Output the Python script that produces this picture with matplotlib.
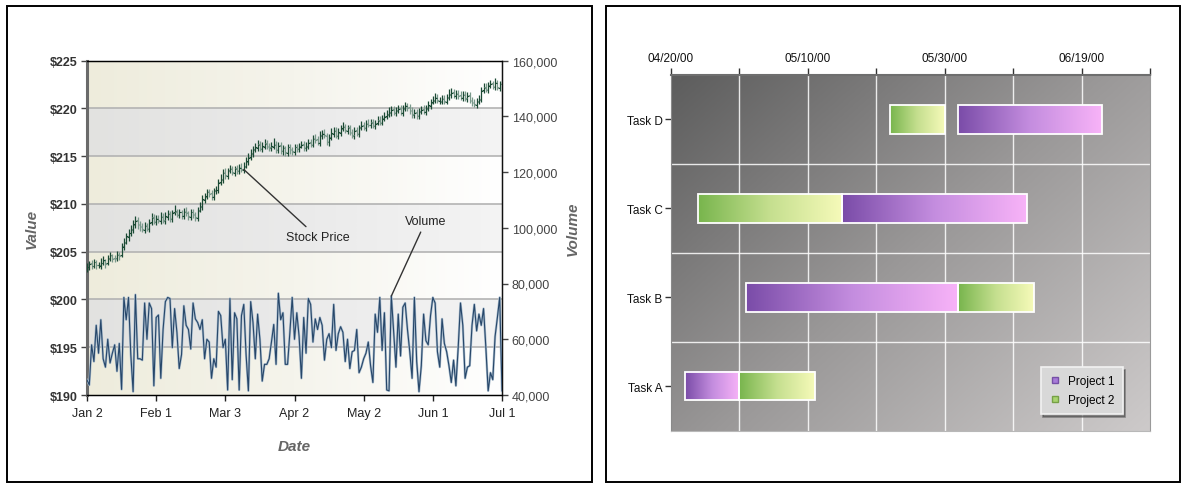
import numpy as np
import pandas as pd
import matplotlib
matplotlib.use("Agg")
import matplotlib.pyplot as plt
import matplotlib.dates as mdates
from matplotlib.colors import LinearSegmentedColormap
from matplotlib.patches import Rectangle
from matplotlib.lines import Line2D
from matplotlib.ticker import FuncFormatter

plt.rcParams["font.family"] = ["Liberation Sans", "DejaVu Sans"]

# ---------------- stock panel: one bar per calendar day from Jan 2 ----------------
START = "2001-01-02"

price_open = [
    203.2, 203.4, 203.8, 203.5, 203.9, 203.6, 203.5, 203.8, 204.0, 203.8,
    204.2, 204.5, 204.3, 204.3, 204.8, 204.6, 205.5, 206.0, 206.5, 207.0,
    207.3, 207.8, 208.3, 207.9, 207.7, 207.3, 207.8, 207.4, 208.1, 208.6,
    208.1, 208.5, 208.2, 208.7, 208.2, 208.6, 209.0, 208.4, 209.1, 209.2,
    208.8, 209.2, 208.7, 209.3, 209.1, 208.6, 209.2, 208.8, 208.5, 209.4,
    209.7, 210.4, 210.8, 211.3, 211.1, 210.7, 211.4, 211.4, 212.3, 212.5,
    213.3, 212.9, 213.5, 213.7, 213.2, 213.7, 213.4, 213.9, 213.5, 214.0,
    214.4, 214.9, 215.2, 215.7, 215.8, 216.3, 215.7, 216.0, 216.4, 216.1,
    215.8, 216.0, 216.3, 215.6, 216.2, 215.5, 215.9, 215.3, 216.0, 215.7,
    215.4, 216.0, 215.7, 216.1, 216.3, 215.8, 216.0, 216.5, 216.2, 216.9,
    216.8, 216.4, 217.1, 217.4, 217.1, 216.5, 217.0, 217.3, 217.7, 217.1,
    217.4, 217.9, 218.1, 217.6, 218.0, 217.4, 217.1, 217.7, 217.3, 218.0,
    218.2, 217.9, 218.5, 218.2, 218.6, 218.1, 218.5, 218.8, 218.5, 219.0,
    219.2, 219.4, 219.5, 219.9, 219.5, 219.8, 220.0, 219.5, 220.0, 220.3,
    220.1, 219.8, 219.3, 219.6, 219.2, 219.7, 219.9, 219.6, 220.0, 220.2,
    220.7, 220.9, 221.2, 220.8, 220.7, 221.1, 220.7, 221.2, 221.4, 221.7,
    221.3, 221.6, 221.4, 221.1, 221.5, 221.0, 221.4, 220.8, 220.7, 220.3,
    220.8, 221.0, 221.9, 222.2, 221.9, 222.4, 222.6, 222.2, 222.7, 222.1,
    222.6,
]
price_high = [
    203.8, 204.0, 204.1, 204.2, 204.1, 203.9, 204.3, 204.5, 204.2, 204.7,
    205.0, 204.8, 204.6, 205.1, 205.0, 205.9, 206.4, 207.0, 207.4, 207.8,
    208.3, 208.7, 208.6, 208.2, 208.0, 208.1, 208.0, 208.4, 209.0, 208.9,
    208.8, 208.8, 209.1, 209.0, 209.2, 209.4, 209.3, 209.4, 209.9, 209.5,
    209.5, 209.4, 209.6, 209.7, 209.3, 209.5, 209.5, 209.2, 209.7, 210.2,
    210.9, 211.1, 211.6, 211.6, 211.4, 211.7, 211.9, 212.6, 213.1, 213.6,
    213.7, 213.8, 214.1, 214.0, 214.0, 214.1, 214.2, 214.3, 214.4, 214.9,
    215.3, 215.7, 216.1, 216.4, 216.7, 216.6, 216.5, 216.8, 216.7, 216.4,
    216.5, 216.9, 216.6, 216.5, 216.5, 216.2, 216.1, 216.3, 216.3, 216.0,
    216.3, 216.3, 216.4, 216.6, 216.6, 216.5, 216.8, 216.8, 217.2, 217.3,
    217.1, 217.6, 217.7, 217.8, 217.4, 217.3, 217.9, 218.0, 218.0, 217.9,
    218.2, 218.6, 218.4, 218.3, 218.3, 217.8, 218.0, 218.0, 218.3, 218.7,
    218.6, 218.8, 218.9, 218.9, 218.9, 218.8, 219.2, 219.2, 219.3, 219.6,
    219.8, 220.1, 220.2, 220.2, 220.1, 220.3, 220.3, 220.3, 220.7, 220.6,
    220.4, 220.1, 219.9, 219.9, 220.0, 220.2, 220.3, 220.3, 220.8, 221.0,
    221.3, 221.6, 221.5, 221.2, 221.4, 221.4, 221.5, 222.0, 222.1, 222.0,
    221.9, 221.9, 221.8, 221.8, 221.8, 221.7, 221.7, 221.2, 221.0, 221.1,
    221.4, 222.2, 222.6, 222.6, 222.8, 223.0, 222.9, 223.2, 223.0, 222.9,
    222.9,
]
price_low = [
    202.9, 203.1, 203.2, 203.3, 203.2, 203.3, 203.2, 203.6, 203.3, 203.6,
    204.0, 203.9, 203.9, 204.0, 204.1, 204.4, 205.2, 205.8, 206.1, 206.6,
    207.0, 207.5, 207.4, 207.2, 207.1, 207.0, 207.2, 207.1, 207.8, 207.9,
    207.8, 208.0, 207.9, 208.0, 207.9, 208.3, 208.1, 208.1, 208.8, 208.6,
    208.5, 208.4, 208.4, 208.7, 208.3, 208.3, 208.5, 208.2, 208.2, 209.1,
    209.4, 210.1, 210.5, 210.7, 210.4, 210.4, 211.0, 211.1, 212.0, 212.2,
    212.6, 212.6, 213.2, 213.0, 212.9, 213.1, 213.1, 213.3, 213.2, 213.7,
    214.1, 214.6, 214.9, 215.4, 215.5, 215.5, 215.4, 215.7, 215.7, 215.5,
    215.5, 215.7, 215.3, 215.3, 215.2, 215.1, 215.0, 215.0, 215.2, 215.1,
    215.1, 215.4, 215.4, 215.8, 215.5, 215.5, 215.7, 216.0, 215.9, 216.4,
    216.2, 216.1, 216.8, 216.9, 216.2, 216.1, 216.7, 217.0, 216.9, 216.8,
    217.1, 217.6, 217.4, 217.3, 217.2, 216.9, 216.8, 217.1, 217.0, 217.7,
    217.7, 217.6, 218.0, 217.9, 217.9, 217.8, 218.2, 218.3, 218.2, 218.7,
    218.9, 219.1, 219.2, 219.3, 219.2, 219.5, 219.3, 219.2, 219.7, 219.7,
    219.4, 219.0, 219.0, 218.9, 218.9, 219.4, 219.4, 219.3, 219.7, 219.9,
    220.4, 220.6, 220.6, 220.5, 220.4, 220.5, 220.4, 220.9, 221.1, 221.1,
    221.0, 221.0, 220.9, 220.8, 220.8, 220.7, 220.6, 220.2, 220.1, 220.0,
    220.5, 220.7, 221.6, 221.7, 221.6, 222.1, 222.0, 221.9, 221.9, 221.8,
    221.7,
]
price_close = [
    203.4, 203.7, 203.5, 203.9, 203.6, 203.6, 203.8, 204.1, 203.7, 204.3,
    204.6, 204.2, 204.2, 204.7, 204.5, 205.6, 205.9, 206.6, 206.9, 207.4,
    207.9, 208.2, 207.8, 207.6, 207.4, 207.7, 207.5, 208.0, 208.5, 208.2,
    208.4, 208.3, 208.6, 208.3, 208.7, 208.9, 208.5, 209.0, 209.3, 208.9,
    209.1, 208.8, 209.2, 209.0, 208.7, 209.1, 208.9, 208.6, 209.3, 209.8,
    210.5, 210.7, 211.2, 211.0, 210.8, 211.3, 211.5, 212.2, 212.6, 213.2,
    213.0, 213.4, 213.6, 213.3, 213.6, 213.5, 213.8, 213.6, 213.9, 214.5,
    214.8, 215.3, 215.6, 215.9, 216.2, 215.8, 216.1, 216.3, 216.0, 215.9,
    216.1, 216.2, 215.7, 216.1, 215.6, 215.8, 215.4, 215.9, 215.6, 215.5,
    215.9, 215.8, 216.0, 216.2, 215.9, 216.1, 216.4, 216.3, 216.8, 216.7,
    216.5, 217.2, 217.3, 217.2, 216.6, 216.9, 217.4, 217.6, 217.2, 217.5,
    217.8, 218.0, 217.7, 217.9, 217.5, 217.2, 217.6, 217.4, 217.9, 218.1,
    218.0, 218.4, 218.3, 218.5, 218.2, 218.4, 218.7, 218.6, 218.9, 219.1,
    219.3, 219.6, 219.8, 219.6, 219.7, 219.9, 219.6, 219.9, 220.2, 220.0,
    219.7, 219.4, 219.5, 219.3, 219.6, 219.8, 219.7, 219.9, 220.3, 220.6,
    220.8, 221.1, 220.9, 220.8, 221.0, 220.8, 221.1, 221.5, 221.6, 221.4,
    221.5, 221.3, 221.2, 221.4, 221.1, 221.3, 220.9, 220.6, 220.4, 220.7,
    220.9, 221.8, 222.1, 222.0, 222.3, 222.5, 222.3, 222.6, 222.2, 222.5,
    222.1,
]
# daily volume, thousands of shares
volume_k = [
    45.4, 43.6, 58.0, 52.0, 65.0, 55.0, 67.0, 53.0, 50.0, 60.0,
    51.5, 55.0, 58.0, 48.5, 58.5, 42.0, 75.0, 67.0, 75.0, 54.5,
    41.2, 76.0, 53.0, 53.0, 52.5, 73.0, 60.0, 73.0, 71.0, 43.3,
    67.8, 68.7, 46.0, 63.5, 73.5, 75.0, 74.6, 57.0, 71.0, 62.5,
    49.5, 54.5, 72.0, 65.0, 63.5, 56.5, 73.0, 67.3, 66.0, 63.5,
    67.0, 53.0, 60.0, 59.0, 46.0, 53.0, 50.0, 70.0, 68.5, 57.0,
    60.0, 41.8, 74.6, 45.5, 69.5, 67.3, 41.8, 68.5, 72.5, 54.5,
    41.5, 73.5, 66.0, 53.0, 69.0, 60.0, 45.0, 51.0, 51.0, 53.0,
    59.0, 65.3, 51.0, 76.5, 67.0, 69.5, 51.0, 51.0, 62.5, 75.0,
    60.0, 69.5, 61.0, 46.0, 67.8, 55.0, 74.6, 72.5, 59.0, 67.3,
    63.5, 67.8, 65.0, 52.5, 60.0, 62.0, 57.0, 72.5, 56.0, 62.0,
    64.5, 62.5, 52.0, 60.0, 49.5, 55.5, 56.0, 63.5, 48.0, 50.0,
    53.0, 55.0, 59.0, 50.5, 44.5, 69.0, 62.5, 75.0, 56.0, 69.5,
    41.8, 41.5, 75.5, 62.5, 50.0, 69.0, 54.0, 71.5, 73.0, 63.5,
    55.5, 46.0, 75.0, 52.0, 41.2, 50.5, 69.0, 59.5, 58.0, 68.5,
    75.0, 73.0, 55.5, 50.0, 67.3, 58.5, 55.5, 50.5, 44.5, 52.5,
    43.3, 57.0, 73.0, 65.0, 46.0, 50.0, 50.5, 65.0, 72.5, 63.0,
    69.0, 65.0, 71.0, 57.0, 41.5, 48.0, 45.5, 61.0, 67.8, 75.0,
    41.5,
]
price_levels = [190, 195, 200, 205, 210, 215, 220, 225]
shaded_bands = [(195, 200), (205, 210), (215, 220)]
volume_levels = [40000, 60000, 80000, 100000, 120000, 140000, 160000]

# ---------------- gantt panel ----------------
tasks = ["Task A", "Task B", "Task C", "Task D"]
p1_start = ["2000-04-22", "2000-05-01", "2000-05-15", "2000-06-01"]
p1_end = ["2000-04-30", "2000-06-01", "2000-06-11", "2000-06-22"]
p2_start = ["2000-04-30", "2000-06-01", "2000-04-24", "2000-05-22"]
p2_end = ["2000-05-11", "2000-06-12", "2000-05-15", "2000-05-30"]
gantt_from, gantt_to = "2000-04-20", "2000-06-29"

W, H = 1187, 485
fig = plt.figure(figsize=(W / 100, H / 100), dpi=100)
fig.patch.set_facecolor("white")

# panel frames
for x0, x1 in [(7, 592), (606, 1180)]:
    fig.patches.append(Rectangle((x0 / W, 2 / H), (x1 - x0) / W, 476 / H,
                                 transform=fig.transFigure, fill=False,
                                 edgecolor="black", lw=1.4))

# ======================= stock chart =======================
ax = fig.add_axes([87 / W, (H - 396) / H, 415 / W, 334.5 / H])
dates = pd.date_range(START, periods=len(price_close), freq="D")
xnum = mdates.date2num(dates)
ramp = np.linspace(0, 1, 256)[None, :]

bg_cmap = LinearSegmentedColormap.from_list("bg", ["#eeecdc", "#f5f4ec", "#ffffff"])
ax.imshow(ramp, cmap=bg_cmap, extent=[xnum[0], xnum[-1], 190, 225],
          aspect="auto", zorder=0, interpolation="bicubic")
band_cmap = LinearSegmentedColormap.from_list("band", ["#e2e2e0", "#eaeaea", "#f4f4f4"])
for lo, hi in shaded_bands:
    ax.imshow(ramp, cmap=band_cmap, extent=[xnum[0], xnum[-1], lo, hi],
              aspect="auto", zorder=0.5, interpolation="bicubic")
for v in price_levels[1:-1]:
    ax.axhline(v, color="#b3b3b3", lw=1.2, zorder=1)

o = np.array(price_open)
h = np.array(price_high)
l = np.array(price_low)
c = np.array(price_close)
cols = np.where(c >= o, "#1b4a34", "#7a9a8c")
half = pd.Timedelta(hours=15)
ax.vlines(dates, l, h, colors=cols, lw=0.9, zorder=3)
ax.hlines(o, dates - half, dates, colors=cols, lw=0.8, zorder=3)
ax.hlines(c, dates, dates + half, colors=cols, lw=0.8, zorder=3)

ax.set_xlim(dates[0], dates[-1])
ax.set_ylim(190, 225)
ax.set_yticks(price_levels)
ax.set_yticklabels([f"${v}" for v in price_levels], fontweight="bold",
                   fontsize=9, color="#333333")
xt = pd.date_range(START, periods=7, freq="30D")
ax.set_xticks(xt)
ax.set_xticklabels([f"{d:%b} {d.day}" for d in xt], fontsize=9, color="#222222")
ax.tick_params(axis="y", length=4, width=1, color="#444444", pad=3)
ax.tick_params(axis="x", length=4, width=1, color="#222222", pad=5)
ax.spines["left"].set_color("#6a6a6a")
ax.spines["left"].set_linewidth(2.2)
for s in ("top", "right", "bottom"):
    ax.spines[s].set_color("#111111")
    ax.spines[s].set_linewidth(1.0)
ax.set_ylabel("Value", fontsize=11, fontweight="bold", fontstyle="italic",
              color="#666666", labelpad=8)
ax.set_xlabel("Date", fontsize=11, fontweight="bold", fontstyle="italic",
              color="#666666", labelpad=14)

ax2 = ax.twinx()
vol = np.array(volume_k) * 1000
ax2.plot(dates, vol, color="#a9bccd", lw=1.7, zorder=2, solid_joinstyle="round")
ax2.plot(dates, vol, color="#27476a", lw=0.8, zorder=3, solid_joinstyle="round")
ax2.set_xlim(dates[0], dates[-1])
ax2.set_ylim(40000, 160000)
ax2.set_yticks(volume_levels)
ax2.yaxis.set_major_formatter(FuncFormatter(lambda v, p: f"{v:,.0f}"))
ax2.tick_params(axis="y", length=4, width=1, color="#444444", labelsize=9,
                labelcolor="#444444", pad=3)
ax2.spines["right"].set_color("#111111")
ax2.spines["left"].set_visible(False)
ax2.set_ylabel("Volume", fontsize=11, fontweight="bold", fontstyle="italic",
               color="#666666", labelpad=6)

ax.annotate("Stock Price", xy=(dates[68], 213.6), xytext=(dates[100], 206.5),
            fontsize=9, color="#222222", ha="center", va="center", zorder=5,
            arrowprops=dict(arrowstyle="-", color="#333333", lw=1.0,
                            shrinkA=2, shrinkB=0))
ax2.annotate("Volume", xy=(dates[132], 75500), xytext=(dates[147], 102500),
             fontsize=9, color="#222222", ha="center", va="center", zorder=5,
             arrowprops=dict(arrowstyle="-", color="#333333", lw=1.0,
                             shrinkA=2, shrinkB=0))

# ======================= gantt chart =======================
gx = fig.add_axes([671 / W, (H - 431.7) / H, 479 / W, 355.7 / H])
g0 = mdates.date2num(pd.Timestamp(gantt_from))
g1 = mdates.date2num(pd.Timestamp(gantt_to))

n = 200
yy, xx = np.mgrid[0:1:n * 1j, 0:1:n * 1j]
gbg = LinearSegmentedColormap.from_list("gbg", ["#5d5d5d", "#9a9898", "#cdcaca"])
gx.imshow(0.55 * xx + 0.45 * yy, cmap=gbg, extent=[g0, g1, -0.5, 3.5],
          aspect="auto", zorder=0, origin="upper", interpolation="bicubic")

gt = pd.date_range(gantt_from, gantt_to, freq="10D")
for d in gt[1:-1]:
    gx.axvline(mdates.date2num(d), color="white", lw=1.0, alpha=0.85, zorder=1)
for yb in (0.5, 1.5, 2.5):
    gx.axhline(yb, color="white", lw=1.0, alpha=0.85, zorder=1)

p1_cmap = LinearSegmentedColormap.from_list("p1", ["#7a4ca8", "#c48ddf", "#f8b3f8"])
p2_cmap = LinearSegmentedColormap.from_list("p2", ["#78b54d", "#c5df8f", "#f6fab9"])
bh = 0.32
for starts, ends, cmap in [(p1_start, p1_end, p1_cmap), (p2_start, p2_end, p2_cmap)]:
    s = mdates.date2num(pd.to_datetime(starts))
    e = mdates.date2num(pd.to_datetime(ends))
    for i, (a, b) in enumerate(zip(s, e)):
        gx.imshow(ramp, cmap=cmap, extent=[a, b, i - bh / 2, i + bh / 2],
                  aspect="auto", zorder=2, interpolation="bicubic")
        gx.add_patch(Rectangle((a, i - bh / 2), b - a, bh, fill=False,
                               edgecolor="white", lw=1.3, zorder=3))

gx.set_xlim(g0, g1)
gx.set_ylim(-0.5, 3.5)
gx.xaxis.tick_top()
gx.set_xticks(mdates.date2num(gt))
gx.set_xticklabels([f"{d:%m/%d/%y}" if k % 2 == 0 else "" for k, d in enumerate(gt)],
                   fontsize=8.5, color="#111111")
gx.tick_params(axis="x", length=5, width=1, color="#333333", pad=3)
gx.set_yticks(range(len(tasks)))
gx.set_yticklabels(tasks, fontsize=8.5, color="#111111")
gx.tick_params(axis="y", length=4, width=1, color="#333333", pad=2)
gx.spines["top"].set_color("#6e6e6e")
gx.spines["top"].set_linewidth(1.5)
gx.spines["left"].set_color("#8a8a8a")
gx.spines["bottom"].set_color("#b8b8b8")
gx.spines["right"].set_color("#9a9a9a")

handles = [
    Line2D([], [], ls="none", marker="s", markersize=5,
           markerfacecolor="#a77bd8", markeredgecolor="#7650a6", label="Project 1"),
    Line2D([], [], ls="none", marker="s", markersize=5,
           markerfacecolor="#a8d470", markeredgecolor="#76a046", label="Project 2"),
]
leg = gx.legend(handles=handles, loc="lower right", bbox_to_anchor=(0.955, 0.03),
                fontsize=8.5, frameon=True, fancybox=False, shadow=True,
                handlelength=1.0, handletextpad=0.6, borderpad=0.7,
                labelspacing=0.55)
leg.get_frame().set_facecolor("#d8d8d8")
leg.get_frame().set_edgecolor("#f2f2f2")
leg.get_frame().set_linewidth(1.2)
leg.set_zorder(5)

fig.savefig("out.png", dpi=100)
